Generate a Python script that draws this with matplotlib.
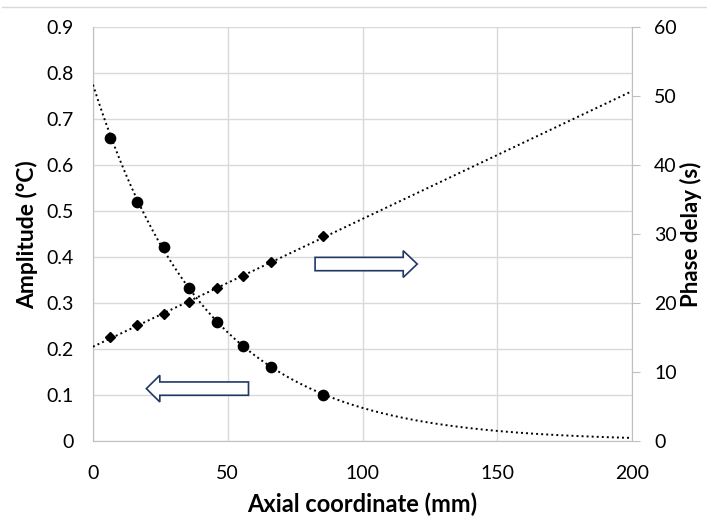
import numpy as np
import matplotlib.pyplot as plt
import matplotlib.patches as mpatches
from matplotlib.lines import Line2D

plt.rcParams['font.family'] = ['Lato', 'DejaVu Sans']

# Measured positions along the axis (mm)
axial_mm = [6.4, 16.5, 26.3, 35.7, 46.0, 55.8, 66.2, 85.3]
# Temperature oscillation amplitude (degC)
amplitude = [0.659, 0.520, 0.422, 0.333, 0.259, 0.207, 0.162, 0.101]
# Phase delay (s)
phase_delay = [15.1, 16.8, 18.4, 20.1, 22.2, 23.9, 25.9, 29.7]

x_ticks = [0, 50, 100, 150, 200]
amp_ticks = [0, 0.1, 0.2, 0.3, 0.4, 0.5, 0.6, 0.7, 0.8, 0.9]
phase_ticks = [0, 10, 20, 30, 40, 50, 60]

# trendlines: exponential for amplitude, linear for phase
x_fit = np.linspace(0, 200, 400)
k, ln_a0 = np.polyfit(axial_mm, np.log(amplitude), 1)
amp_fit = np.exp(ln_a0 + k * x_fit)
m, c = np.polyfit(axial_mm, phase_delay, 1)
phase_fit = m * x_fit + c

fig = plt.figure(figsize=(7.07, 5.18), dpi=100)
ax = fig.add_axes([0.1315, 0.1486, 0.7625, 0.7987])
ax2 = ax.twinx()

grid_col = '#d9d9d9'
spine_col = '#bfbfbf'
dots = (0, (1, 1.6))

ax.plot(x_fit, amp_fit, color='black', lw=1.4, ls=dots, zorder=3)
ax.plot(axial_mm, amplitude, 'o', color='black', ms=7.4, zorder=4)
ax2.plot(x_fit, phase_fit, color='black', lw=1.4, ls=dots, zorder=3)
ax2.plot(axial_mm, phase_delay, 'D', color='black', ms=5.5, zorder=4)

ax.set_xlim(0, 200)
ax.set_ylim(0, 0.9)
ax2.set_ylim(0, 60)
ax.set_xticks(x_ticks)
ax.set_yticks(amp_ticks)
ax.set_yticklabels(['0' if v == 0 else f'{v:.1f}' for v in amp_ticks])
ax2.set_yticks(phase_ticks)

ax.grid(True, color=grid_col, lw=1.0)
ax.set_axisbelow(True)

for a in (ax, ax2):
    for s in a.spines.values():
        s.set_visible(False)
ax.spines['bottom'].set_visible(True)
ax.spines['bottom'].set_color(spine_col)
ax.spines['left'].set_visible(True)
ax.spines['left'].set_color(spine_col)
ax2.spines['right'].set_visible(True)
ax2.spines['right'].set_color(spine_col)

ax.tick_params(axis='y', length=0, labelsize=14, colors='black', pad=14)
ax.tick_params(axis='x', length=0, labelsize=14, colors='black', pad=17)
ax2.tick_params(axis='y', length=6, color=spine_col, labelsize=14, pad=10)

ax.set_xlabel('Axial coordinate (mm)', fontsize=17, fontweight='bold')
ax.xaxis.set_label_coords(0.5, -0.124)
ax.set_ylabel('Amplitude (°C)', fontsize=16.5, fontweight='bold')
ax.yaxis.set_label_coords(-0.102, 0.5)
ax2.set_ylabel('Phase delay (s)', fontsize=16, fontweight='bold', rotation=90)
ax2.yaxis.set_label_coords(1.089, 0.5)

# hollow block arrows pointing at each series' axis
arrow_col = '#1f3864'
ax.add_patch(mpatches.FancyArrow(82.4, 0.385, 32.7, 0, width=0.029, head_width=0.058,
                                 head_length=5.2, length_includes_head=False,
                                 fc='white', ec=arrow_col, lw=1.2, zorder=5))
ax.add_patch(mpatches.FancyArrow(57.7, 0.114, -32.9, 0, width=0.029, head_width=0.058,
                                 head_length=5.0, length_includes_head=False,
                                 fc='white', ec=arrow_col, lw=1.2, zorder=5))

# thin frame edge along the top
fig.add_artist(Line2D([0.003, 1.0], [1 - 7.3 / 518] * 2, color=grid_col, lw=1.0))

fig.savefig('out.png', dpi=100)
